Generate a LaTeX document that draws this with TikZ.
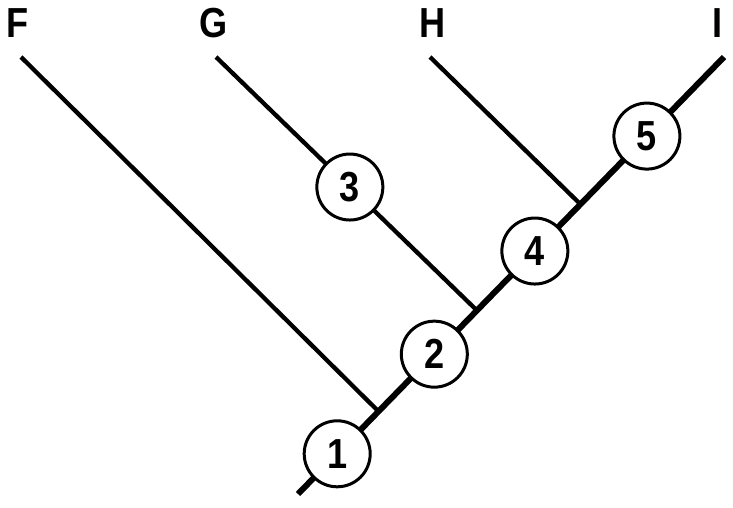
\documentclass[tikz,border=0pt]{standalone}
\usepackage{fontspec}
\setmainfont{Liberation Sans}
\newfontfamily\condfont[FakeStretch=0.86]{Liberation Sans}
\usetikzlibrary{calc}
\tikzset{
  trunk/.style={line width=6pt},
  branch/.style={line width=4.3pt},
  numcirc/.style={circle, draw, line width=3pt, fill=white, minimum size=66pt, inner sep=0pt,
     font=\condfont\fontsize{42}{42}\selectfont\bfseries},
  taxon/.style={font=\condfont\fontsize{42}{42}\selectfont\bfseries, inner sep=0pt, anchor=base}
}
\begin{document}
\begin{tikzpicture}[x=1pt,y=-1pt]
\useasboundingbox (0,0) rectangle (733,508);
\coordinate (root) at (298,494);
\coordinate (tip) at (724,57);
\coordinate (jF) at ($(root)!0.189!(tip)$);
\coordinate (jG) at ($(root)!0.42!(tip)$);
\coordinate (jH) at ($(root)!0.663!(tip)$);
\coordinate (sF) at (21,57);
\coordinate (sG) at (216,57);
\coordinate (sH) at (430,57);
\node[taxon] (F) at (18,37.5) {F};
\node[taxon] (G) at (214,37.5) {G};
\node[taxon] (H) at (433,37.5) {H};
\node[taxon] (I) at (718,37.5) {I};
\draw[trunk] (root) -- (tip);
\draw[branch] (sF) -- (jF);
\draw[branch] (sG) -- (jG);
\draw[branch] (sH) -- (jH);
\node[numcirc] (n1) at ($(root)!0.092!(tip)$) {1};
\node[numcirc] (n2) at ($(root)!0.32!(tip)$) {2};
\node[numcirc] (n3) at ($(sG)!0.513!(jG)$) {3};
\node[numcirc] (n4) at ($(root)!0.556!(tip)$) {4};
\node[numcirc] (n5) at ($(root)!0.819!(tip)$) {5};
\end{tikzpicture}
\end{document}
